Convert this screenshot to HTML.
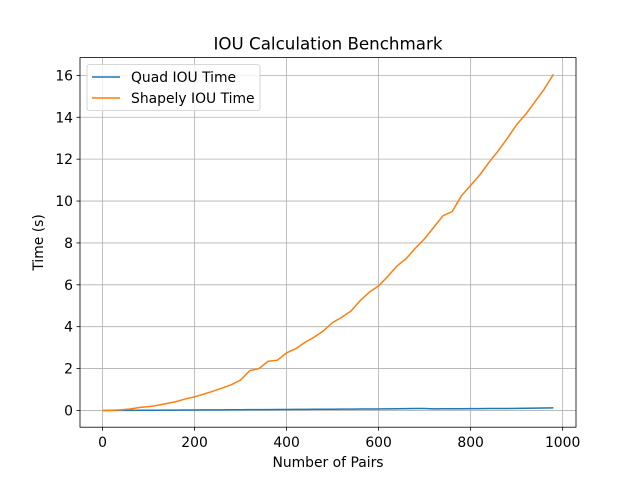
<!DOCTYPE html>
<html><head><meta charset="utf-8"><style>
body{margin:0;background:#fff;font-family:"Liberation Sans","DejaVu Sans",sans-serif}
svg text{font-family:"DejaVu Sans","Liberation Sans",sans-serif;fill:#000}
</style></head><body>
<svg id="chart" width="640" height="480" xmlns="http://www.w3.org/2000/svg">
<rect width="640" height="480" fill="#fff"/>
<g id="grid"></g><g id="lines"></g><g id="axes"></g>
</svg>
<script>
const xValues=[0,20,40,60,80,100,120,140,160,180,200,220,240,260,280,300,320,340,360,380,400,420,440,460,480,500,520,540,560,580,600,620,640,660,680,700,720,740,760,780,800,820,840,860,880,900,920,940,960,980];
const shapelyTimes=[0,0.01,0.03,0.07,0.14,0.18,0.25,0.33,0.42,0.55,0.65,0.78,0.92,1.07,1.23,1.45,1.9,2.0,2.35,2.4,2.75,2.95,3.25,3.5,3.8,4.2,4.45,4.75,5.25,5.65,5.95,6.4,6.9,7.25,7.75,8.2,8.75,9.3,9.5,10.25,10.75,11.25,11.85,12.4,13.0,13.65,14.15,14.75,15.35,16.05];
const quadTimes=[0,0.002,0.004,0.006,0.008,0.01,0.012,0.015,0.017,0.02,0.022,0.025,0.027,0.03,0.032,0.035,0.037,0.04,0.042,0.045,0.047,0.05,0.052,0.055,0.057,0.06,0.062,0.065,0.067,0.07,0.072,0.075,0.08,0.085,0.09,0.09,0.075,0.078,0.08,0.082,0.085,0.088,0.09,0.093,0.095,0.1,0.105,0.11,0.115,0.12];
const xTicks=[0,200,400,600,800,1000];
const yTicks=[0,2,4,6,8,10,12,14,16];
const L=80,R=576,T=57.6,B=427.2;
const xmin=-49,xmax=1029,ymin=-0.8,ymax=16.85;
const sx=v=>L+(v-xmin)/(xmax-xmin)*(R-L);
const sy=v=>B-(v-ymin)/(ymax-ymin)*(B-T);
const NS="http://www.w3.org/2000/svg";
function mk(p,tag,a){const e=document.createElementNS(NS,tag);for(const k in a)e.setAttribute(k,a[k]);p.appendChild(e);return e;}
const grid=document.getElementById('grid'),lines=document.getElementById('lines'),axes=document.getElementById('axes');
xTicks.forEach(t=>{const x=sx(t);
 const g=mk(grid,'line',{x1:x,x2:x,y1:T,y2:B,stroke:'#b0b0b0','stroke-width':0.8});
 
 mk(axes,'line',{x1:x,x2:x,y1:B,y2:B+3.5,stroke:'#000','stroke-width':0.8});
 const tx=mk(axes,'text',{x:x,y:B+20,'text-anchor':'middle','font-size':13.9});tx.textContent=t;
 });
yTicks.forEach(t=>{const y=sy(t);
 const g=mk(grid,'line',{x1:L,x2:R,y1:y,y2:y,stroke:'#b0b0b0','stroke-width':0.8});
 
 mk(axes,'line',{x1:L-3.5,x2:L,y1:y,y2:y,stroke:'#000','stroke-width':0.8});
 const tx=mk(axes,'text',{x:L-7,y:y+5,'text-anchor':'end','font-size':13.9});tx.textContent=t;
 });
function series(vals,color,name){const d=vals.map((v,i)=>(i?'L':'M')+sx(xValues[i]).toFixed(2)+','+sy(v).toFixed(2)).join('');
 const p=mk(lines,'path',{d:d,fill:'none',stroke:color,'stroke-width':1.5,'stroke-linejoin':'round'});
 }
series(quadTimes,'#1f77b4','quad-iou-line');
series(shapelyTimes,'#ff7f0e','shapely-iou-line');
const fr=mk(axes,'rect',{x:L,y:T,width:R-L,height:B-T,fill:'none',stroke:'#000','stroke-width':0.8});

const ti=mk(axes,'text',{x:(L+R)/2,y:T-8,'text-anchor':'middle','font-size':16.7});ti.textContent='IOU Calculation Benchmark';

const xl=mk(axes,'text',{x:(L+R)/2,y:467,'text-anchor':'middle','font-size':13.9});xl.textContent='Number of Pairs';

const yl=mk(axes,'text',{x:0,y:0,'text-anchor':'middle','font-size':13.9,transform:`translate(43,${(T+B)/2}) rotate(-90)`});yl.textContent='Time (s)';

const lg=mk(axes,'g',{});

mk(lg,'rect',{x:87,y:64.6,width:173,height:46,rx:2.5,fill:'#fff','fill-opacity':0.8,stroke:'#ccc','stroke-width':0.8});
[['Quad IOU Time','#1f77b4',77],['Shapely IOU Time','#ff7f0e',98]].forEach(([n,c,y])=>{
 const e=mk(lg,'g',{});
 mk(e,'line',{x1:92,x2:120,y1:y,y2:y,stroke:c,'stroke-width':1.5});
 const t=mk(e,'text',{x:131,y:y+5,'font-size':13.9});t.textContent=n;});
</script>
</body></html>
